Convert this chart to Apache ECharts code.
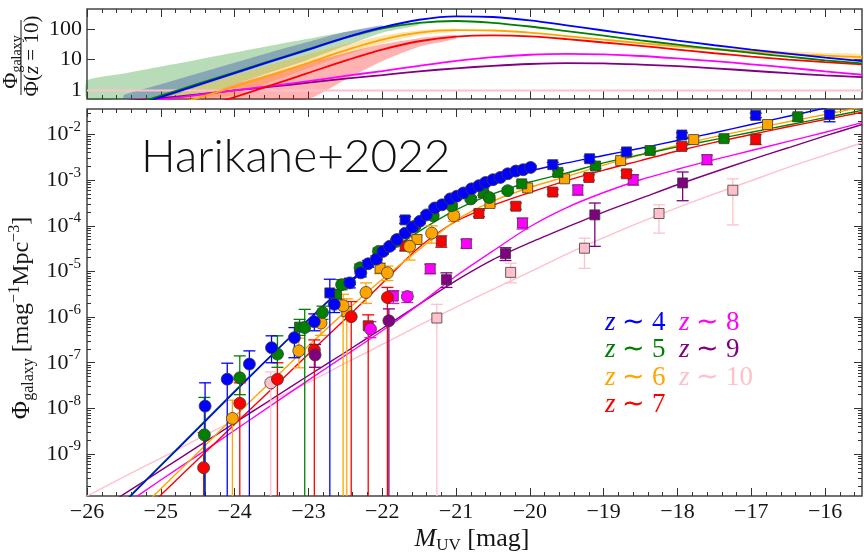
<!DOCTYPE html>
<html>
<head>
<meta charset="utf-8">
<script src="https://cdn.jsdelivr.net/npm/echarts@6/dist/echarts.min.js"></script>
<style>
  html, body { margin: 0; padding: 0; background: #fff; }
  #chart { width: 864px; height: 552px; }
</style>
</head>
<body>
<div id="chart"></div>
<script>
// ---- Magnitude grid on which the fitted curves are sampled ----
const M_GRID = [-26, -25.5, -25, -24.5, -24, -23.5, -23, -22.5, -22, -21.5, -21,
                -20.5, -20, -19.5, -19, -18.5, -18, -17.5, -17, -16.5, -16, -15.5];

// ---- Fitted luminosity functions, log10(Phi) ----
const fitZ4  = [-10.88,-10.07,-9.26,-8.45,-7.64,-6.84,-6.05,-5.30,-4.62,-3.97,-3.44,-3.06,-2.80,-2.62,-2.46,-2.30,-2.13,-1.96,-1.78,-1.60,-1.42,-1.24];
const fitZ5  = [-10.85,-10.05,-9.24,-8.43,-7.62,-6.83,-6.06,-5.33,-4.68,-4.12,-3.65,-3.30,-3.04,-2.84,-2.62,-2.44,-2.27,-2.11,-1.95,-1.79,-1.63,-1.47];
const fitZ6  = [-11.35,-10.55,-9.76,-8.97,-8.18,-7.40,-6.63,-5.88,-5.17,-4.52,-3.88,-3.46,-3.16,-2.92,-2.67,-2.45,-2.24,-2.05,-1.88,-1.72,-1.56,-1.40];
const fitZ7  = [-11.45,-10.68,-9.90,-9.12,-8.35,-7.58,-6.81,-6.04,-5.26,-4.47,-3.90,-3.55,-3.27,-3.01,-2.78,-2.57,-2.36,-2.17,-2.00,-1.83,-1.67,-1.51];
const fitZ8  = [-10.66,-10.12,-9.57,-9.03,-8.48,-7.93,-7.38,-6.84,-6.30,-5.72,-5.10,-4.55,-4.02,-3.60,-3.27,-2.99,-2.76,-2.55,-2.35,-2.15,-1.95,-1.74];
const fitZ9  = [-10.40,-9.88,-9.36,-8.84,-8.32,-7.80,-7.28,-6.77,-6.25,-5.72,-5.20,-4.74,-4.37,-4.03,-3.70,-3.40,-3.10,-2.82,-2.55,-2.29,-2.03,-1.78];
const fitZ10 = [-9.92,-9.50,-9.09,-8.67,-8.26,-7.84,-7.43,-7.01,-6.60,-6.18,-5.78,-5.39,-5.01,-4.62,-4.26,-3.92,-3.60,-3.30,-3.01,-2.72,-2.45,-2.18];

// ---- Ratio to the z=10 function, log10(Phi / Phi(z=10)) ----
const ratioZ4 = [-0.95,-0.60,-0.22,0.17,0.56,0.95,1.33,1.72,2.05,2.30,2.41,2.39,2.28,2.12,1.95,1.78,1.62,1.47,1.33,1.20,1.07,0.95];
const ratioZ5 = [-0.90,-0.55,-0.17,0.21,0.59,0.97,1.35,1.72,2.02,2.20,2.26,2.20,2.08,1.93,1.78,1.63,1.49,1.35,1.22,1.10,0.98,0.88];
const ratioZ6 = [-1.30,-0.95,-0.60,-0.25,0.12,0.50,0.90,1.30,1.65,1.88,1.96,1.95,1.88,1.77,1.65,1.54,1.43,1.34,1.26,1.19,1.13,1.08];
const ratioZ7 = [-1.70,-1.35,-0.98,-0.60,-0.22,0.17,0.57,0.97,1.33,1.60,1.75,1.79,1.76,1.67,1.56,1.45,1.33,1.21,1.10,1.00,0.92,0.85];
const ratioZ8 = [-0.60,-0.45,-0.30,-0.15,0.00,0.15,0.30,0.47,0.63,0.80,0.96,1.08,1.16,1.19,1.17,1.12,1.04,0.95,0.85,0.74,0.62,0.51];
const ratioZ9 = [-0.45,-0.35,-0.25,-0.13,0.00,0.12,0.25,0.38,0.50,0.62,0.72,0.80,0.86,0.89,0.88,0.84,0.79,0.72,0.64,0.56,0.49,0.43];
const ratioZ10 = [[-26, 0], [-15.5, 0]];

// ---- Uncertainty bands of the ratios ----
const bandZ5M  = [-26,-25.5,-25,-24.5,-24,-23.5,-23,-22.5,-22,-21.5];
const bandZ5Lo = [-1.40,-1.00,-0.60,-0.20,0.20,0.60,1.00,1.45,1.88,2.13];
const bandZ5Hi = [0.32,0.55,0.78,1.00,1.23,1.46,1.68,1.90,2.08,2.22];
const bandZ4M  = [-25.5,-25,-24.5,-24,-23.5,-23,-22.5,-22];
const bandZ4Lo = [-0.65,-0.27,0.12,0.51,0.90,1.28,1.67,2.00];
const bandZ4Hi = [-0.15,0.20,0.55,0.90,1.25,1.58,1.90,2.12];
const bandZ6M  = [-26,-25.5,-25,-24.5,-24,-23.5,-23,-22.5,-22,-21.5,-21];
const bandZ6Lo = [-1.70,-1.30,-0.95,-0.55,-0.15,0.28,0.72,1.15,1.52,1.80,1.92];
const bandZ6Hi = [-0.80,-0.50,-0.20,0.15,0.50,0.85,1.18,1.50,1.78,1.96,2.01];
const bandZ6FaintM  = [-19,-18,-17,-16,-15.5];
const bandZ6FaintLo = [1.62,1.40,1.22,1.06,1.00];
const bandZ6FaintHi = [1.68,1.48,1.33,1.22,1.18];
const bandZ7M  = [-25,-24.5,-24,-23.5,-23,-22.5,-22,-21.5,-21];
const bandZ7Lo = [-2.50,-2.20,-1.60,-0.90,-0.30,0.35,0.95,1.42,1.68];
const bandZ7Hi = [-0.60,-0.20,0.20,0.55,0.90,1.22,1.50,1.70,1.80];

// ---- Measurements: [M_UV, log10 Phi, lower end, upper end]; lower end -99 = reaches zero ----
const ptsZ4c = [[-24.40,-7.95,-99,-7.44],[-24.10,-7.36,-99,-7.01],[-23.80,-7.03,-99,-6.74],[-23.50,-6.67,-7.00,-6.41],
  [-23.19,-6.45,-6.89,-6.23],[-22.92,-6.10,-6.30,-5.93],[-22.65,-5.72,-5.90,-5.58],[-22.44,-5.25,-5.36,-5.15],
  [-22.29,-5.03,-5.12,-4.95],[-22.19,-4.83,-4.91,-4.76],[-22.08,-4.73,-4.80,-4.66],[-21.99,-4.56,-4.62,-4.50],
  [-21.90,-4.45,-4.51,-4.40],[-21.80,-4.30,-4.35,-4.25],[-21.69,-4.16,-4.21,-4.11],[-21.59,-4.03,-4.08,-3.98],
  [-21.49,-3.90,-3.95,-3.85],[-21.40,-3.76,-3.81,-3.71],[-21.29,-3.61,-3.66,-3.57],[-21.19,-3.54,-3.58,-3.50],
  [-21.08,-3.41,-3.45,-3.37],[-20.99,-3.35,-3.39,-3.31],[-20.90,-3.28,-3.32,-3.24],[-20.79,-3.19,-3.23,-3.15],
  [-20.69,-3.12,-3.16,-3.08],[-20.60,-3.05,-3.09,-3.01],[-20.50,-2.99,-3.03,-2.95],[-20.40,-2.94,-2.98,-2.90],
  [-20.30,-2.86,-2.90,-2.82],[-20.19,-2.80,-2.84,-2.76],[-20.09,-2.77,-2.81,-2.73],[-19.99,-2.72,-2.76,-2.68]];
const ptsZ4s = [[-22.71,-5.47,-99,-5.17],[-21.69,-3.87,-3.95,-3.80],[-19.69,-2.66,-2.71,-2.61],[-19.19,-2.53,-2.58,-2.48],
  [-18.69,-2.38,-2.43,-2.33],[-17.94,-2.01,-2.06,-1.96],[-16.94,-1.58,-1.63,-1.53],[-15.94,-1.56,-1.72,-1.50]];
const ptsZ5c = [[-24.41,-8.58,-99,-7.76],[-23.93,-7.33,-7.70,-6.85],[-23.42,-6.81,-7.10,-6.41],[-23.05,-6.23,-99,-5.83],
  [-22.81,-5.90,-6.05,-5.76],[-22.55,-5.29,-5.40,-5.18],[-22.30,-4.92,-5.00,-4.84],[-22.05,-4.56,-4.63,-4.49],
  [-21.81,-4.34,-4.40,-4.28],[-21.56,-4.01,-4.06,-3.96],[-21.31,-3.78,-3.83,-3.73],[-21.06,-3.56,-3.61,-3.51],
  [-20.80,-3.41,-3.46,-3.36],[-20.55,-3.38,-3.43,-3.33],[-20.30,-3.23,-3.28,-3.18]];
const ptsZ5s = [[-23.12,-6.22,-6.40,-6.05],[-22.62,-5.50,-5.60,-5.40],[-20.63,-3.28,-3.33,-3.23],[-20.11,-3.08,-3.13,-3.03],
  [-19.62,-2.83,-2.88,-2.78],[-19.11,-2.69,-2.74,-2.64],[-18.37,-2.35,-2.40,-2.30],[-17.37,-2.09,-2.14,-2.04],[-16.37,-1.61,-1.70,-1.54]];
const ptsZ6c = [[-24.03,-8.22,-99,-7.82],[-23.13,-6.74,-7.11,-6.46],[-22.83,-6.13,-6.40,-5.92],[-22.53,-5.75,-99,-5.50],
  [-22.22,-5.46,-5.70,-5.25],[-21.93,-5.03,-5.20,-4.88],[-21.63,-4.45,-4.75,-4.25],[-21.33,-4.16,-4.38,-4.00],[-21.03,-3.78,-3.90,-3.68]];
const ptsZ6s = [[-22.48,-5.88,-99,-5.60],[-22.03,-4.93,-5.05,-4.82],[-21.53,-4.30,-4.40,-4.21],[-20.54,-3.51,-3.57,-3.45],
  [-20.03,-3.17,-3.22,-3.12],[-19.53,-2.97,-3.02,-2.92],[-18.77,-2.57,-2.62,-2.52],[-17.78,-2.11,-2.16,-2.06],[-16.78,-1.78,-1.88,-1.70]];
const ptsZ7c = [[-24.42,-9.30,-99,-8.53],[-23.93,-7.89,-99,-7.44],[-23.42,-7.36,-99,-7.00],[-22.92,-6.72,-99,-6.50],
  [-22.42,-5.99,-99,-5.66],[-21.93,-5.57,-99,-5.35]];
const ptsZ7s = [[-22.19,-6.19,-99,-5.95],[-21.69,-4.44,-4.55,-4.34],[-21.20,-4.34,-4.47,-4.22],[-20.69,-3.73,-3.80,-3.66],
  [-20.19,-3.57,-3.64,-3.50],[-19.69,-3.26,-3.32,-3.20],[-19.20,-2.94,-3.00,-2.88],[-18.69,-2.86,-2.93,-2.79],
  [-17.94,-2.26,-2.32,-2.20],[-16.94,-2.10,-2.22,-2.00]];
const ptsZ8c = [[-22.16,-6.26,-6.45,-6.10],[-21.66,-5.55,-5.68,-5.45]];
const ptsZ8s = [[-21.85,-5.54,-5.70,-5.42],[-21.35,-4.94,-5.05,-4.84],[-20.86,-4.39,-4.49,-4.30],[-20.10,-3.94,-4.07,-3.83],
  [-19.35,-3.21,-3.33,-3.11],[-18.60,-2.99,-3.11,-2.88],[-17.60,-2.55,-2.66,-2.45]];
const ptsZ9c = [[-22.91,-6.83,-7.10,-6.60],[-21.91,-6.08,-99,-5.82]];
const ptsZ9s = [[-21.13,-5.18,-5.35,-5.03],[-20.33,-4.61,-4.76,-4.48],[-19.12,-3.76,-4.45,-3.50],[-17.93,-3.06,-3.45,-2.82]];
const ptsZ10c = [[-23.51,-7.44,-99,-7.20]];
const ptsZ10s = [[-21.26,-6.02,-99,-5.72],[-20.26,-5.02,-5.25,-4.82],[-19.26,-4.49,-4.93,-4.27],[-18.25,-3.73,-4.16,-3.54],[-17.25,-3.22,-3.98,-2.97]];

// ---- Tick positions and labels ----
const X_TICKS = [-26, -25, -24, -23, -22, -21, -20, -19, -18, -17, -16];
const Y_DECADES = [-9, -8, -7, -6, -5, -4, -3, -2];
const RATIO_TICKS = [0, 1, 2];
const RATIO_LABELS = ['1', '10', '100'];
const LEGEND_ROWS = [
  ['4', 605, 323, '#0000ff'], ['5', 605, 350, '#008000'], ['6', 605, 378, '#ffa500'], ['7', 605, 405, '#ff0000'],
  ['8', 679, 323, '#ff00ff'], ['9', 679, 350, '#800080'], ['10', 679, 378, '#ffc0cb']
];

// ---- Axis ranges ----
const X_MIN = -26, X_MAX = -15.5;
const Y_MIN = -9.92, Y_MAX = -1.44;
const R_MIN = -0.28, R_MAX = 2.65;

const COL = { z4: '#0000ff', z5: '#008000', z6: '#ffa500', z7: '#ff0000', z8: '#ff00ff', z9: '#800080', z10: '#ffc0cb' };
const SERIF = 'Liberation Serif';
const TICK_COLOR = '#333';
const INK = '#151515';

const xMinor = [];
for (let i = -130; i <= -78; i++) { if (i % 5 !== 0) xMinor.push(i / 5); }
const yMinor = [];
for (let d = -10; d <= -2; d++) for (let k = 2; k <= 9; k++) yMinor.push(d + Math.log10(k));

function axis(gridIndex, position, min, max, ticks, len, labelValues, formatter, labelOpts) {
  return {
    type: 'value', gridIndex, position, min, max,
    axisLine: { show: false, onZero: false },
    splitLine: { show: false },
    axisTick: { show: true, inside: true, length: len, customValues: ticks, lineStyle: { color: TICK_COLOR, width: 1 } },
    axisLabel: labelValues ? Object.assign({ show: true, customValues: labelValues, formatter }, labelOpts) : { show: false }
  };
}

const xFmt = v => (v < 0 ? '\u2212' + Math.abs(v) : String(v));
const xLabelStyle = { fontFamily: SERIF, fontSize: 22, color: INK, margin: 5 };
const yFmt = v => '{b|10}{s|' + v + '}';
const yLabelStyle = { fontFamily: SERIF, fontSize: 22, color: INK, margin: 6,
  rich: { b: { fontFamily: SERIF, fontSize: 22, lineHeight: 30, color: INK },
          s: { fontFamily: SERIF, fontSize: 15, lineHeight: 15, verticalAlign: 'top', color: INK } } };
const rLabelStyle = { fontFamily: SERIF, fontSize: 22, color: INK, margin: 5 };

const xAxes = [
  // luminosity-function panel (grid 1)
  axis(1, 'bottom', X_MIN, X_MAX, X_TICKS, 8, X_TICKS, xFmt, xLabelStyle),
  axis(1, 'bottom', X_MIN, X_MAX, xMinor, 4),
  axis(1, 'top', X_MIN, X_MAX, X_TICKS, 8),
  axis(1, 'top', X_MIN, X_MAX, xMinor, 4),
  // ratio panel (grid 0)
  axis(0, 'bottom', X_MIN, X_MAX, X_TICKS, 8),
  axis(0, 'bottom', X_MIN, X_MAX, xMinor, 4),
  axis(0, 'top', X_MIN, X_MAX, X_TICKS, 8),
  axis(0, 'top', X_MIN, X_MAX, xMinor, 4)
];
const yAxes = [
  axis(1, 'left', Y_MIN, Y_MAX, Y_DECADES, 8, Y_DECADES, yFmt, yLabelStyle),
  axis(1, 'left', Y_MIN, Y_MAX, yMinor, 4),
  axis(1, 'right', Y_MIN, Y_MAX, Y_DECADES, 8),
  axis(1, 'right', Y_MIN, Y_MAX, yMinor, 4),
  axis(0, 'left', R_MIN, R_MAX, RATIO_TICKS, 8, RATIO_TICKS, v => RATIO_LABELS[RATIO_TICKS.indexOf(v)], rLabelStyle),
  axis(0, 'right', R_MIN, R_MAX, RATIO_TICKS, 8)
];
const MAIN = { xAxisIndex: 0, yAxisIndex: 0 };
const TOP = { xAxisIndex: 4, yAxisIndex: 4 };

function fitLine(values, color, width, ax, z) {
  return Object.assign({
    type: 'line', data: M_GRID.map((m, i) => [m, values[i]]), showSymbol: false, smooth: 0.3,
    lineStyle: { color, width }, itemStyle: { color }, silent: true, z: z || 2, clip: true
  }, ax);
}

function band(ms, lo, hi, fill) {
  return Object.assign({
    type: 'custom', silent: true, z: 1, data: [[ms[0], lo[0]]],
    renderItem(params, api) {
      const clampR = v => Math.min(R_MAX, Math.max(R_MIN, v));
      const pts = [];
      for (let i = 0; i < ms.length; i++) pts.push(api.coord([ms[i], clampR(hi[i])]));
      for (let i = ms.length - 1; i >= 0; i--) pts.push(api.coord([ms[i], clampR(lo[i])]));
      return { type: 'polygon', shape: { points: pts, smooth: 0.2 }, style: { fill } };
    }
  }, TOP);
}

function errorBars(pts, color) {
  return Object.assign({
    type: 'custom', silent: true, z: 3, clip: true,
    data: pts,
    renderItem(params, api) {
      const m = api.value(0), lo = api.value(2), hi = api.value(3);
      const toZero = lo < -50;
      const top = api.coord([m, Math.min(hi, Y_MAX)]);
      const bot = api.coord([m, Math.max(toZero ? Y_MIN : lo, Y_MIN)]);
      const cap = 6, st = { stroke: color, lineWidth: 1.3 };
      const kids = [
        { type: 'line', shape: { x1: top[0], y1: top[1], x2: bot[0], y2: bot[1] }, style: st },
        { type: 'line', shape: { x1: top[0] - cap, y1: top[1], x2: top[0] + cap, y2: top[1] }, style: st }
      ];
      if (!toZero) kids.push({ type: 'line', shape: { x1: bot[0] - cap, y1: bot[1], x2: bot[0] + cap, y2: bot[1] }, style: st });
      return { type: 'group', children: kids };
    }
  }, MAIN);
}

function markers(pts, color, symbol) {
  return Object.assign({
    type: 'scatter', symbol, symbolSize: symbol === 'circle' ? 12 : 10, z: 4, silent: true,
    data: pts.map(p => [p[0], p[1]]),
    itemStyle: { color, borderColor: '#3a3a3a', borderWidth: 0.8, opacity: 1 }
  }, MAIN);
}

const series = [
  // ratio panel
  band(bandZ5M, bandZ5Lo, bandZ5Hi, 'rgba(0,128,0,0.28)'),
  band(bandZ4M, bandZ4Lo, bandZ4Hi, 'rgba(40,70,170,0.35)'),
  band(bandZ6M, bandZ6Lo, bandZ6Hi, 'rgba(255,165,0,0.30)'),
  band(bandZ6FaintM, bandZ6FaintLo, bandZ6FaintHi, 'rgba(255,165,0,0.30)'),
  band(bandZ7M, bandZ7Lo, bandZ7Hi, 'rgba(255,0,0,0.30)'),
  Object.assign({ type: 'line', data: ratioZ10, showSymbol: false, lineStyle: { color: COL.z10, width: 2 }, silent: true, z: 2 }, TOP),
  fitLine(ratioZ9, COL.z9, 1.8, TOP),
  fitLine(ratioZ8, COL.z8, 1.8, TOP),
  fitLine(ratioZ7, COL.z7, 1.8, TOP),
  fitLine(ratioZ6, COL.z6, 1.8, TOP),
  fitLine(ratioZ5, COL.z5, 1.8, TOP),
  fitLine(ratioZ4, COL.z4, 1.8, TOP),
  // luminosity-function panel: fits
  fitLine(fitZ10, COL.z10, 1.4, MAIN),
  fitLine(fitZ9, COL.z9, 1.4, MAIN),
  fitLine(fitZ8, COL.z8, 1.4, MAIN),
  fitLine(fitZ7, COL.z7, 1.4, MAIN),
  fitLine(fitZ6, COL.z6, 1.4, MAIN),
  fitLine(fitZ5, COL.z5, 1.4, MAIN),
  fitLine(fitZ4, COL.z4, 1.4, MAIN)
];

// measurements: error bars first, markers above them
const dataSets = [
  [ptsZ10s, COL.z10, 'rect'], [ptsZ10c, COL.z10, 'circle'],
  [ptsZ9s, COL.z9, 'rect'], [ptsZ8s, COL.z8, 'rect'], [ptsZ7s, COL.z7, 'rect'], [ptsZ6s, COL.z6, 'rect'],
  [ptsZ5s, COL.z5, 'rect'], [ptsZ4s, COL.z4, 'rect'],
  [ptsZ7c, COL.z7, 'circle'], [ptsZ6c, COL.z6, 'circle'], [ptsZ5c, COL.z5, 'circle'], [ptsZ4c, COL.z4, 'circle'],
  [ptsZ8c, COL.z8, 'circle'], [ptsZ9c, COL.z9, 'circle']
];
dataSets.forEach(d => series.push(errorBars(d[0], d[1])));
dataSets.forEach(d => series.push(markers(d[0], d[1], d[2])));

const legendTexts = LEGEND_ROWS.map(r => ({
  type: 'text', x: r[1], y: r[2], silent: true,
  style: {
    text: '{i|z}{t| \u223C ' + r[0] + '}', fill: r[3], verticalAlign: 'middle', align: 'left',
    fontFamily: SERIF, fontSize: 27,
    rich: {
      i: { fontFamily: SERIF, fontStyle: 'italic', fontSize: 27, fill: r[3] },
      t: { fontFamily: SERIF, fontSize: 27, fill: r[3] }
    }
  }
}));

const option = {
  animation: false,
  backgroundColor: '#fff',
  grid: [
    { left: 87, right: 2, top: 9, height: 90, show: true, borderColor: '#444', borderWidth: 1.5, backgroundColor: 'transparent' },
    { left: 87, right: 2, top: 109, height: 387, show: true, borderColor: '#444', borderWidth: 1.5, backgroundColor: 'transparent' }
  ],
  xAxis: xAxes,
  yAxis: yAxes,
  series,
  graphic: [
    { type: 'text', x: 141, y: 157, silent: true,
      style: { text: 'Harikane+2022', fontFamily: 'Lato', fontWeight: 300, fontSize: 46, fill: '#111', verticalAlign: 'middle' } },
    // luminosity-function y-axis title
    { type: 'text', x: 22, y: 318, rotation: Math.PI / 2, silent: true,
      style: { text: '{p|\u03A6}{sub|galaxy}{t| [mag}{sup|\u22121}{t|Mpc}{sup|\u22123}{t|]}', align: 'center', verticalAlign: 'middle',
        fontFamily: SERIF, fontSize: 24,
        rich: {
          p: { fontFamily: SERIF, fontSize: 25, lineHeight: 30, fill: INK },
          t: { fontFamily: SERIF, fontSize: 24, lineHeight: 30, fill: INK },
          sub: { fontFamily: SERIF, fontSize: 16, lineHeight: 16, verticalAlign: 'bottom', fill: INK },
          sup: { fontFamily: SERIF, fontSize: 16, lineHeight: 16, verticalAlign: 'top', fill: INK }
        } } },
    // ratio panel y-axis title (fraction)
    { type: 'text', x: 11, y: 62, rotation: Math.PI / 2, silent: true,
      style: { text: '{p|\u03A6}{sub|galaxy}', align: 'center', verticalAlign: 'middle', fontFamily: SERIF, fontSize: 22,
        rich: {
          p: { fontFamily: SERIF, fontSize: 22, lineHeight: 26, fill: INK },
          sub: { fontFamily: SERIF, fontSize: 14, lineHeight: 14, verticalAlign: 'bottom', fill: INK }
        } } },
    { type: 'line', silent: true, shape: { x1: 21, y1: 20, x2: 21, y2: 95 }, style: { stroke: INK, lineWidth: 1 } },
    { type: 'text', x: 32, y: 56, rotation: Math.PI / 2, silent: true,
      style: { text: '{t|\u03A6(}{i|z}{t| = 10)}', align: 'center', verticalAlign: 'middle', fontFamily: SERIF, fontSize: 21,
        rich: {
          t: { fontFamily: SERIF, fontSize: 21, fill: INK },
          i: { fontFamily: SERIF, fontSize: 21, fontStyle: 'italic', fill: INK }
        } } },
    // x-axis title
    { type: 'text', x: 472, y: 539, silent: true,
      style: { text: '{i|M}{sub|UV}{t| [mag]}', align: 'center', verticalAlign: 'middle', fontFamily: SERIF, fontSize: 26,
        rich: {
          i: { fontFamily: SERIF, fontSize: 26, fontStyle: 'italic', lineHeight: 30, fill: INK },
          t: { fontFamily: SERIF, fontSize: 26, lineHeight: 30, fill: INK },
          sub: { fontFamily: SERIF, fontSize: 17, lineHeight: 17, verticalAlign: 'bottom', fill: INK }
        } } }
  ].concat(legendTexts)
};

const chart = echarts.init(document.getElementById('chart'), null, { renderer: 'canvas' });
chart.setOption(option);
</script>
</body>
</html>
